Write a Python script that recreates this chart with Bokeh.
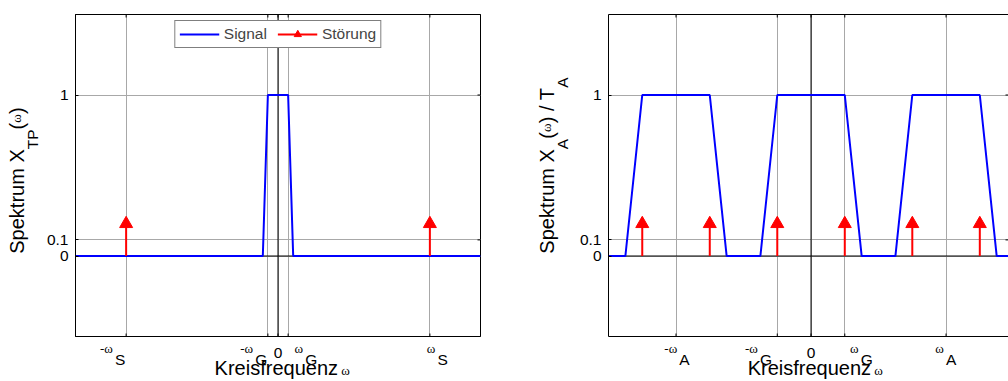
import numpy as np
from bokeh.plotting import figure
from bokeh.models import Range1d, FixedTicker, Span, Legend, LegendItem, LinearAxis
from bokeh.layouts import row
from bokeh.embed import file_html
from bokeh.resources import INLINE

# ---------------- data (frequencies in units of omega_G) ----------------
# left panel: band-limited spectrum X_TP
tp_w = [-20, -1.5, -1, 1, 1.5, 20]
tp_mag = [0, 0, 1, 1, 0, 0]
tp_stoer_w = [-15, 15]
tp_stoer_h = [0.2, 0.2]
tp_ticks = [-15, -1, 0, 1, 15]
tp_tick_pre = ["-ω", "-ω", "ω", "ω"]
tp_tick_sub = ["S", "G", "G", "S"]
tp_tick_split = [-16.2, -2.35, 2.6, 15.66]   # where prefix ends / subscript starts

# right panel: sampled spectrum X_A / T_A
a_w = [-6, -5.5, -5, -3, -2.5, -1.5, -1, 1, 1.5, 2.5, 3, 5, 5.5, 6]
a_mag = [0, 0, 1, 1, 0, 0, 1, 1, 0, 0, 1, 1, 0, 0]
a_stoer_w = [-5, -3, -1, 1, 3, 5]
a_stoer_h = [0.2, 0.2, 0.2, 0.2, 0.2, 0.2]
a_ticks = [-4, -1, 0, 1, 4]
a_tick_pre = ["-ω", "-ω", "ω", "ω"]
a_tick_sub = ["A", "G", "G", "A"]
a_tick_split = [-3.93, -1.54, 1.44, 3.97]

y_ticks = [0, 0.1, 1]
x_title = ["Kreisfrequenz", "ω"]
y_title_tp = [("Spektrum X", "main"), ("TP", "sub"), ("(", "main"), ("ω", "om"), (")", "main")]
y_title_a = [("Spektrum X", "main"), ("A", "sub"), ("(", "main"), ("ω", "om"), (") / T", "main"), ("A", "sub")]

SANS = "Liberation Sans"
SERIF = "Liberation Serif"
FONTS = {"main": (SANS, 20), "xl": (SANS, 20), "sub": (SANS, 15.5), "om": (SERIF, 13),
         "tick": (SANS, 15.5)}

ARIAL = {"S": 667, "p": 556, "e": 556, "k": 500, "t": 278, "r": 333, "u": 556, "m": 833,
         " ": 278, "X": 667, "T": 611, "P": 667, "(": 333, ")": 333, "/": 278, "A": 667,
         "G": 778, "K": 667, "i": 222, "s": 500, "f": 278, "q": 556, "n": 556, "z": 500, "-": 333}
SERIFW = {"-": 333, "ω": 686}

FRAME_H = 322.0  # px, for y in [-0.5, 1.5]


def tw(s, kind):
    font, px = FONTS[kind]
    table = SERIFW if font == SERIF else ARIAL
    return sum(table.get(c, 556) for c in s) * px / 1000.0


def make_fig(xr, width, mb_left, mb_right):
    p = figure(width=width, height=381, x_range=Range1d(*xr), y_range=Range1d(-0.5, 1.5),
               output_backend="svg", toolbar_location=None,
               min_border_left=mb_left, min_border_right=mb_right,
               min_border_top=14, min_border_bottom=45)
    p.background_fill_color = "white"
    p.border_fill_color = "white"
    p.outline_line_color = "black"
    p.outline_line_width = 1
    return p


def text_axis(p, ax, side, pos, texts, kind, standoff, vertical=False):
    if ax is None:
        ax = LinearAxis()
        p.add_layout(ax, side)
    pos = [round(float(v), 5) for v in pos]
    font, px = FONTS[kind]
    ax.ticker = FixedTicker(ticks=pos)
    ax.major_label_overrides = {v: t for v, t in zip(pos, texts)}
    ax.major_label_text_font = font
    ax.major_label_text_font_size = f"{px}px"
    ax.major_label_text_color = "black"
    ax.major_label_standoff = standoff
    ax.axis_line_color = None
    ax.major_tick_line_color = None
    ax.minor_tick_line_color = None
    ax.major_tick_in = 0
    ax.major_tick_out = 0
    if vertical:
        ax.major_label_orientation = "vertical"
    return ax


def decorate(p, xt, scale, xcenter_data, splits, pre, sub, ytitle, ycenter, ystand):
    # grid, zero lines, tick marks
    p.xgrid.ticker = FixedTicker(ticks=xt)
    p.ygrid.ticker = FixedTicker(ticks=y_ticks)
    for g in (p.xgrid, p.ygrid):
        g.grid_line_color = "#a8a8a8"
        g.grid_line_width = 1
    p.add_layout(Span(location=0, dimension="height", line_color="black", line_width=1, level="underlay"))
    p.add_layout(Span(location=0, dimension="width", line_color="black", line_width=1, level="underlay"))
    x0, x1 = p.x_range.start, p.x_range.end
    y0, y1 = p.y_range.start, p.y_range.end
    kw = dict(length=3, length_units="screen", line_color="black", line_width=1)
    p.ray(x=xt, y=[y0] * len(xt), angle=np.pi / 2, **kw)
    p.ray(x=xt, y=[y1] * len(xt), angle=-np.pi / 2, **kw)
    p.ray(x=[x1] * len(y_ticks), y=y_ticks, angle=np.pi, **kw)

    # y tick labels (real axis)
    ya = p.yaxis[0]
    ya.ticker = FixedTicker(ticks=y_ticks)
    ya.major_label_text_font = SANS
    ya.major_label_text_font_size = "15.5px"
    ya.major_label_text_color = "black"
    ya.major_label_standoff = 7
    ya.axis_line_color = "black"
    ya.major_tick_in = 3
    ya.major_tick_out = 0
    ya.major_tick_line_color = "black"
    ya.minor_tick_line_color = None

    # x tick labels: rows of text axes below the frame
    pre_c = [s - (1 + tw(t, "om") / 2) / scale for s, t in zip(splits, pre)]
    sub_c = [s + (1 + tw(t, "sub") / 2) / scale for s, t in zip(splits, sub)]
    xa = text_axis(p, p.xaxis[0], "below", pre_c, pre, "om", 4)
    xa.axis_line_color = "black"
    text_axis(p, None, "below", [0.0], ["0"], "tick", -11)
    text_axis(p, None, "below", sub_c, sub, "sub", -10)
    kx = xcenter_data + (60 - tw(x_title[0], "xl") / 2) / scale
    ox = xcenter_data + (63 + tw(x_title[1], "om") / 2) / scale
    text_axis(p, None, "below", [ox], [x_title[1]], "om", -8)
    text_axis(p, None, "below", [kx], [x_title[0]], "xl", -24)

    # top frame line as an axis without ticks
    top = LinearAxis(ticker=FixedTicker(ticks=[]), axis_line_color="black",
                     major_tick_line_color=None, minor_tick_line_color=None,
                     major_tick_in=0, major_tick_out=0, major_label_standoff=0)
    p.add_layout(top, "above")

    # y title pieces, rotated, in rows left of the tick labels
    total = sum(tw(t, k) for t, k in ytitle)
    start = ycenter - 14 + total / 2  # px below frame top where text starts (bottom end)
    cum = 0.0
    rows = {"main": ([], []), "sub": ([], []), "om": ([], [])}
    for t, k in ytitle:
        w = tw(t, k)
        sy = start - cum - w / 2           # px below frame top
        rows[k][0].append(y1 - sy / FRAME_H * (y1 - y0))
        rows[k][1].append(t)
        cum += w
    text_axis(p, None, "left", rows["sub"][0], rows["sub"][1], "sub", ystand[0], True)
    text_axis(p, None, "left", rows["om"][0], rows["om"][1], "om", ystand[1], True)
    text_axis(p, None, "left", rows["main"][0], rows["main"][1], "main", ystand[2], True)


# ---------------- left panel ----------------
p1 = make_fig((-20, 20), 530, 75, 50)
decorate(p1, tp_ticks, 405 / 40.0, 0.0, tp_tick_split, tp_tick_pre, tp_tick_sub,
         y_title_tp, 180, (2, -3, -22))
sig = p1.line(tp_w, tp_mag, line_color="#0000ff", line_width=2)
st_l = p1.segment(x0=tp_stoer_w, y0=[0] * len(tp_stoer_w), x1=tp_stoer_w, y1=tp_stoer_h,
                  line_color="#ff0000", line_width=2)
st_m = p1.scatter(tp_stoer_w, tp_stoer_h, marker="triangle", size=13,
                  fill_color="#ff0000", line_color="#ff0000")
leg = Legend(items=[LegendItem(label="Signal", renderers=[sig]),
                    LegendItem(label="Störung", renderers=[st_l, st_m])],
             location="top_center", orientation="horizontal", margin=6, padding=4,
             glyph_width=40, glyph_height=18, label_standoff=5, spacing=10,
             label_text_font=SANS, label_text_font_size="15.5px",
             border_line_color="black", border_line_width=1,
             background_fill_color="white", background_fill_alpha=1.0)
p1.add_layout(leg, "center")

# ---------------- right panel (its right edge lies beyond the window in the original) ----------------
p2 = make_fig((-6, 5.85), 478, 78, 0)
p2.outline_line_color = None
decorate(p2, a_ticks, 400 / 11.85, 0.0, a_tick_split, a_tick_pre, a_tick_sub,
         y_title_a, 165, (5, -3, -22))
p2.line(a_w, a_mag, line_color="#0000ff", line_width=2)
p2.segment(x0=a_stoer_w, y0=[0] * len(a_stoer_w), x1=a_stoer_w, y1=a_stoer_h,
           line_color="#ff0000", line_width=2)
p2.scatter(a_stoer_w, a_stoer_h, marker="triangle", size=13,
           fill_color="#ff0000", line_color="#ff0000")

layout = row(p1, p2)
open("out.html", "w").write(file_html(layout, INLINE))
